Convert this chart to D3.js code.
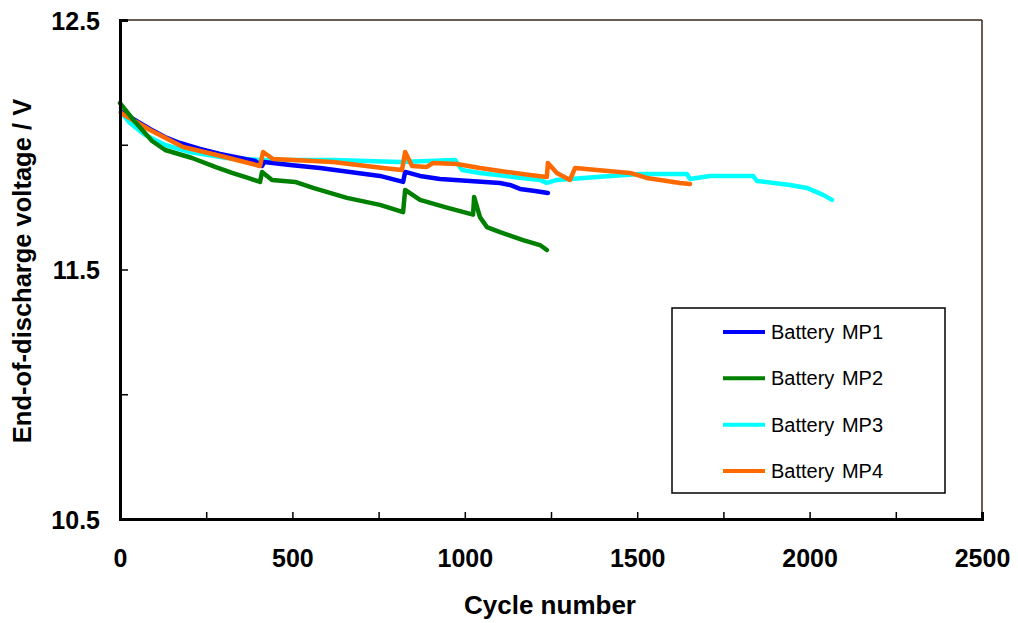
<!DOCTYPE html>
<html>
<head>
<meta charset="utf-8">
<script src="https://cdn.jsdelivr.net/npm/d3@7"></script>
<style>
  html, body { margin: 0; padding: 0; background: #fff; }
  svg { display: block; font-family: "Liberation Sans", Arial, sans-serif; }
</style>
</head>
<body>
<svg id="chart" width="1018" height="623"></svg>
<script>
// ---- Data (cycle number, end-of-discharge voltage) ----
const seriesNames = ["Battery MP1", "Battery MP2", "Battery MP3", "Battery MP4"];
const seriesColors = ["#0000ff", "#008000", "#00ffff", "#ff6a00"];

const mp1Cycles = [3, 43, 87, 130, 174, 232, 290, 348, 392, 412, 418, 493, 580, 667, 754, 821, 827, 870, 928, 1015, 1102, 1131, 1160, 1204, 1241];
const mp1Volts  = [12.131, 12.099, 12.063, 12.031, 12.007, 11.983, 11.963, 11.947, 11.935, 11.915, 11.931, 11.919, 11.907, 11.891, 11.875, 11.851, 11.891, 11.875, 11.863, 11.855, 11.847, 11.839, 11.823, 11.815, 11.807];

const mp2Cycles = [0, 44, 93, 131, 209, 276, 325, 371, 406, 412, 441, 508, 560, 658, 754, 821, 827, 870, 948, 1024, 1027, 1044, 1064, 1102, 1169, 1218, 1238];
const mp2Volts  = [12.167, 12.091, 12.015, 11.979, 11.947, 11.911, 11.887, 11.867, 11.851, 11.891, 11.859, 11.851, 11.827, 11.787, 11.759, 11.730, 11.819, 11.779, 11.748, 11.720, 11.791, 11.710, 11.670, 11.650, 11.618, 11.598, 11.578];

const mp3Cycles = [3, 29, 73, 131, 203, 310, 406, 618, 812, 972, 992, 1044, 1140, 1218, 1238, 1267, 1383, 1508, 1644, 1653, 1711, 1836, 1847, 1943, 1992, 2039, 2065];
const mp3Volts  = [12.131, 12.087, 12.039, 11.999, 11.971, 11.947, 11.939, 11.939, 11.931, 11.939, 11.899, 11.887, 11.871, 11.859, 11.847, 11.859, 11.871, 11.883, 11.883, 11.863, 11.875, 11.875, 11.855, 11.839, 11.827, 11.799, 11.779];

const mp4Cycles = [3, 87, 183, 281, 406, 415, 444, 618, 763, 818, 827, 847, 890, 908, 977, 1044, 1122, 1189, 1238, 1241, 1267, 1305, 1320, 1383, 1479, 1528, 1624, 1653];
const mp4Volts  = [12.127, 12.059, 11.991, 11.959, 11.915, 11.971, 11.943, 11.931, 11.907, 11.899, 11.971, 11.915, 11.911, 11.927, 11.923, 11.907, 11.891, 11.879, 11.871, 11.927, 11.887, 11.859, 11.907, 11.899, 11.887, 11.867, 11.847, 11.843];

const xMajorTicks = [0, 500, 1000, 1500, 2000, 2500];
const xMinorTicks = [0, 250, 500, 750, 1000, 1250, 1500, 1750, 2000, 2250, 2500];
const yMajorTicks = [10.5, 11.5, 12.5];
const yMinorTicks = [10.5, 11.0, 11.5, 12.0, 12.5];

const seriesData = [
  {name: seriesNames[0], color: seriesColors[0], xs: mp1Cycles, ys: mp1Volts},
  {name: seriesNames[1], color: seriesColors[1], xs: mp2Cycles, ys: mp2Volts},
  {name: seriesNames[2], color: seriesColors[2], xs: mp3Cycles, ys: mp3Volts},
  {name: seriesNames[3], color: seriesColors[3], xs: mp4Cycles, ys: mp4Volts}
];
const drawOrder = [2, 0, 3, 1];

// ---- Layout ----
const svg = d3.select("#chart");
const L = 120, R = 982, T = 20, B = 519;
const FONT = "Liberation Sans, Arial, sans-serif";

const x = d3.scaleLinear().domain([0, 2500]).range([L, R]);
const y = d3.scaleLinear().domain([10.5, 12.5]).range([B, T]);

// plot frame (top/right thin)
svg.append("line").attr("x1", L).attr("x2", R).attr("y1", T).attr("y2", T)
  .attr("stroke", "#3a2618").attr("stroke-width", 1.5);
svg.append("line").attr("x1", R).attr("x2", R).attr("y1", T).attr("y2", B)
  .attr("stroke", "#3a2618").attr("stroke-width", 1.5);

// data lines
const line = d3.line().x(d => x(d[0])).y(d => y(d[1]));
const gLines = svg.append("g");
drawOrder.forEach(i => {
  const s = seriesData[i];
  const pts = s.xs.map((c, k) => [c, s.ys[k]]);
  gLines.append("path").datum(pts)
    .attr("d", line)
    .attr("fill", "none")
    .attr("stroke", s.color)
    .attr("stroke-width", 4.5)
    .attr("stroke-linejoin", "round")
    .attr("stroke-linecap", "round");
});

// x axis
const xAxisMinor = d3.axisTop(x).tickValues(xMinorTicks).tickSize(7).tickFormat("");
const gx = svg.append("g").attr("transform", `translate(0,${B})`).call(xAxisMinor);
gx.select(".domain").attr("stroke", "#000").attr("stroke-width", 3);
gx.selectAll(".tick line").attr("stroke", "#000").attr("stroke-width", 1.5);

const xLabels = d3.axisBottom(x).tickValues(xMajorTicks).tickSize(0).tickPadding(30).tickFormat(d3.format("d"));
const gxl = svg.append("g").attr("transform", `translate(0,${B})`).call(xLabels);
gxl.select(".domain").remove();
gxl.selectAll("text").attr("font-size", 25).attr("font-weight", "bold")
  .attr("font-family", FONT).attr("fill", "#000");

// y axis
const yAxisMinor = d3.axisRight(y).tickValues(yMinorTicks).tickSize(8).tickFormat("");
const gy = svg.append("g").attr("transform", `translate(${L},0)`).call(yAxisMinor);
gy.select(".domain").attr("stroke", "#000").attr("stroke-width", 3);
gy.selectAll(".tick line").attr("stroke", "#000").attr("stroke-width", 1.5);

const yLabels = d3.axisLeft(y).tickValues(yMajorTicks).tickSize(0).tickPadding(20).tickFormat(d3.format(".1f"));
const gyl = svg.append("g").attr("transform", `translate(${L},0)`).call(yLabels);
gyl.select(".domain").remove();
gyl.selectAll("text").attr("font-size", 25).attr("font-weight", "bold")
  .attr("font-family", FONT).attr("fill", "#000")
  .attr("dy", "0.36em");

// axis titles
svg.append("text").attr("x", 550).attr("y", 614)
  .attr("text-anchor", "middle").attr("font-size", 26).attr("font-weight", "bold")
  .attr("font-family", FONT).text("Cycle number");
svg.append("text").attr("transform", `translate(31,271) rotate(-90)`)
  .attr("text-anchor", "middle").attr("font-size", 25.5).attr("font-weight", "bold")
  .attr("font-family", FONT).text("End-of-discharge voltage / V");

// legend
const lg = svg.append("g");
lg.append("rect").attr("x", 672).attr("y", 308).attr("width", 273).attr("height", 185)
  .attr("fill", "#fff").attr("stroke", "#000").attr("stroke-width", 1.5);
const legendY = d3.scalePoint().domain(seriesNames).range([332, 471]);
seriesData.forEach(s => {
  const yy = legendY(s.name);
  lg.append("line").attr("x1", 723).attr("x2", 765).attr("y1", yy).attr("y2", yy)
    .attr("stroke", s.color).attr("stroke-width", 4);
  lg.append("text").attr("x", 771).attr("y", yy + 7).attr("font-size", 20)
    .attr("font-family", FONT).attr("fill", "#000").attr("word-spacing", 2).text(s.name);
});
</script>
</body>
</html>
